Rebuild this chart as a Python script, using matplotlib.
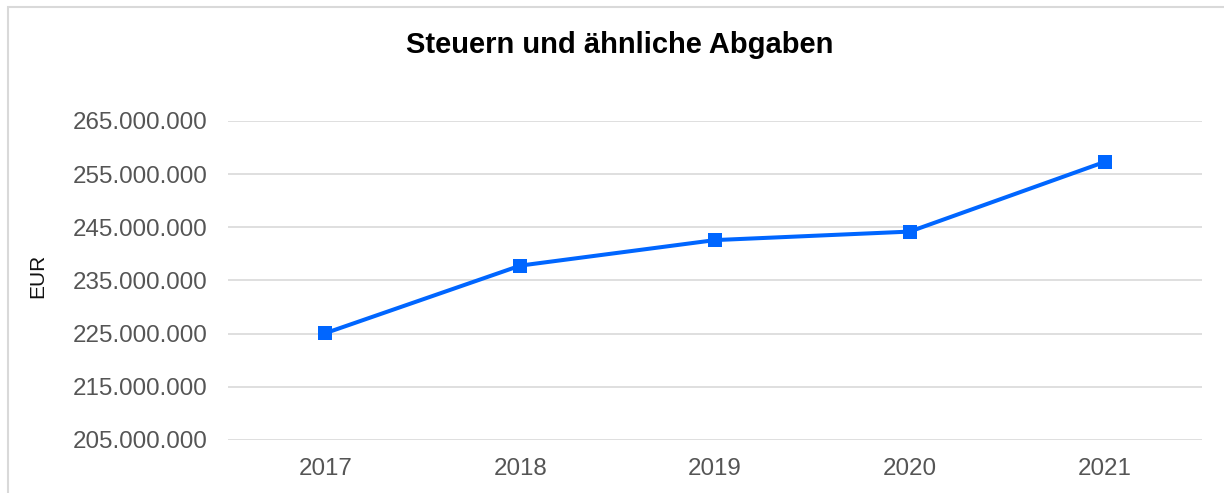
import matplotlib
matplotlib.use("Agg")
from matplotlib import pyplot as plt
from matplotlib.ticker import FuncFormatter, FixedLocator
from matplotlib.patches import Rectangle

years = ["2017", "2018", "2019", "2020", "2021"]
steuern = [225_100_000, 237_800_000, 242_600_000, 244_200_000, 257_300_000]
y_ticks = [205_000_000, 215_000_000, 225_000_000, 235_000_000,
           245_000_000, 255_000_000, 265_000_000]

plt.rcParams['font.family'] = ['Liberation Sans', 'DejaVu Sans']

W, H = 1224, 493
fig = plt.figure(figsize=(W / 100, H / 100), dpi=100)
ax = fig.add_axes([228 / W, (H - 440) / H, (1202 - 228) / W, (440 - 121) / H])

x = range(len(years))
ax.plot(x, steuern, color="#0066ff", linewidth=2.9, marker="s",
        markersize=10.5, markeredgewidth=0, zorder=3)

ax.set_xlim(-0.5, len(years) - 0.5)
ax.set_ylim(y_ticks[0], y_ticks[-1])
ax.set_xticks(list(x))
ax.set_xticklabels(years)
ax.yaxis.set_major_locator(FixedLocator(y_ticks))
ax.yaxis.set_major_formatter(FuncFormatter(lambda v, p: f"{int(v):,}".replace(",", ".")))

ax.tick_params(axis="both", length=0, labelsize=17.4, labelcolor="#555555")
ax.tick_params(axis="y", pad=15)
ax.tick_params(axis="x", pad=13)
ax.grid(axis="y", color="#d9d9d9", linewidth=1.2)
ax.set_axisbelow(True)
for s in ax.spines.values():
    s.set_visible(False)

fig.text(620 / W, (H - 45) / H, "Steuern und ähnliche Abgaben", ha="center",
         va="center", fontsize=21, fontweight="bold", color="black")
fig.text(38 / W, (H - 276) / H, "EUR", ha="center", va="center",
         rotation=90, fontsize=15, color="#111111")

# outer frame (only left and top edges fall inside the image)
fig.patches.append(Rectangle((8 / W, -0.1), 1.2, (H - 7) / H + 0.1,
                             transform=fig.transFigure, fill=False,
                             edgecolor="#d9d9d9", linewidth=1.5))

fig.savefig("out.png", dpi=100)
